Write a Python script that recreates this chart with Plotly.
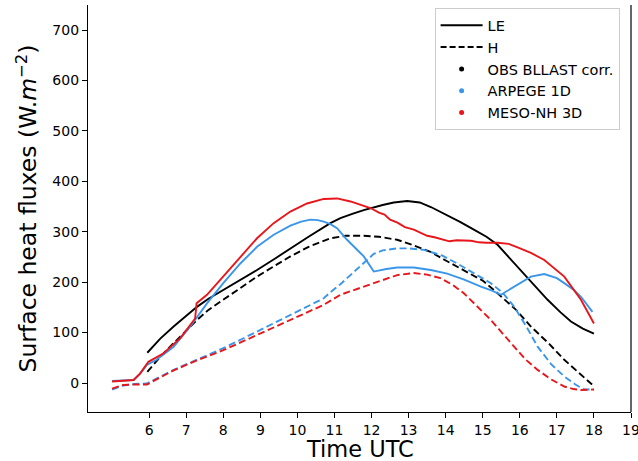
import plotly.graph_objects as go

# ---------------- data ----------------
# Observed latent heat flux LE (black solid)
obs_le_t = [5.95, 6.3, 6.66, 7.0, 7.29, 7.6, 8.0, 8.5, 8.91, 9.4, 9.81, 10.3, 10.89, 11.16, 11.5,
            11.79, 12.3, 12.6, 12.96, 13.3, 13.6, 14.05, 14.4, 14.76, 15.1, 15.4, 15.7, 16.03, 16.4,
            16.75, 17.1, 17.38, 17.7, 18.0]
obs_le = [60, 88, 112, 133, 151, 167, 184, 205, 224, 247, 267, 290, 317, 327, 336,
          343, 353, 358, 361, 358, 349, 333, 319, 304, 290, 274, 250, 224, 193,
          165, 140, 122, 108, 98]

# Observed sensible heat flux H (black dashed)
obs_h_t = [5.95, 6.3, 6.66, 7.0, 7.29, 7.6, 8.0, 8.5, 8.91, 9.4, 9.81, 10.3, 10.89, 11.3, 11.79,
           12.2, 12.69, 13.1, 13.59, 14.0, 14.49, 15.0, 15.4, 15.9, 16.3, 16.8, 17.2, 17.6, 17.95]
obs_h = [22, 52, 79, 104, 125, 145, 165, 190, 211, 233, 251, 270, 287, 292, 292,
         290, 284, 274, 260, 243, 224, 203, 178, 145, 112, 77, 46, 20, -3]

# ARPEGE 1D LE (blue solid)
arp_le_t = [5.0, 5.3, 5.58, 5.75, 5.94, 6.2, 6.66, 7.11, 7.56, 8.0, 8.46, 8.91, 9.36, 9.81, 10.1,
            10.35, 10.55, 10.71, 10.89, 11.07, 11.34, 11.79, 12.06, 12.4, 12.69, 13.14, 13.6, 14.04,
            14.5, 14.95, 15.25, 15.49, 15.85, 16.3, 16.66, 17.0, 17.2, 17.45, 17.65, 17.96]
arp_le = [4, 5, 6, 18, 36, 46, 72, 112, 158, 198, 237, 270, 294, 312, 320,
          324, 323, 320, 315, 307, 284, 251, 221, 226, 229, 229, 224, 217,
          205, 191, 183, 175, 191, 211, 216, 208, 198, 185, 171, 141]

# MESO-NH 3D LE (red solid)
mnh_le_t = [5.0, 5.3, 5.58, 5.76, 5.98, 6.39, 6.84, 7.24, 7.28, 7.56, 8.0, 8.46, 8.91, 9.36, 9.81,
            10.26, 10.71, 11.07, 11.43, 11.97, 12.2, 12.35, 12.5, 12.7, 12.9, 13.14, 13.3, 13.5, 13.7,
            13.95, 14.1, 14.3, 14.5, 14.68, 14.9, 15.1, 15.4, 15.7, 15.94, 16.3, 16.66, 17.2, 17.65, 18.0]
mnh_le = [3, 5, 6, 19, 42, 59, 89, 128, 158, 175, 211, 250, 287, 317, 340,
          356, 365, 366, 360, 347, 338, 334, 324, 318, 309, 304, 299, 292, 289,
          284, 281, 283, 282, 282, 279, 278, 278, 276, 269, 258, 244, 211, 165, 118]

# ARPEGE 1D H (blue dashed)
arp_h_t = [5.0, 5.3, 5.6, 5.94, 6.66, 7.29, 8.0, 8.91, 9.81, 10.71, 10.89, 11.16, 11.43, 11.79, 12.06,
           12.3, 12.69, 13.0, 13.41, 13.9, 14.31, 14.8, 15.22, 15.55, 15.85, 16.2, 16.48, 16.85,
           17.2, 17.5, 17.74, 18.0]
arp_h = [-13, -5, -2, -1, 26, 46, 69, 102, 135, 168, 180, 196, 214, 238, 256,
         263, 267, 267, 264, 253, 237, 216, 198, 178, 151, 109, 72, 37,
         13, -3, -13, -13]

# MESO-NH 3D H (red dashed)
mnh_h_t = [5.0, 5.3, 5.6, 5.94, 6.66, 7.29, 8.0, 8.91, 9.81, 10.71, 11.16, 11.79, 12.3, 12.69, 13.14,
           13.5, 13.86, 14.2, 14.49, 14.85, 15.22, 15.55, 15.85, 16.15, 16.48, 16.85, 17.2, 17.45,
           17.65, 18.0]
mnh_h = [-11, -4, -3, -3, 25, 45, 65, 95, 125, 155, 175, 191, 205, 214, 218,
         215, 208, 194, 178, 152, 125, 97, 72, 47, 26, 7, -7, -12,
         -14, -13]

x_ticks = list(range(6, 20))
y_ticks = list(range(0, 800, 100))
legend_names = ["LE", "H", "OBS BLLAST corr.", "ARPEGE 1D", "MESO-NH 3D"]
x_title = "Time UTC"
y_title = "Surface heat fluxes (W.<i>m</i><sup>−2</sup>)"

# ---------------- styles ----------------
BLACK = "#000000"
BLUE = "#3a96ea"
RED = "#e8161b"
FONT = "DejaVu Sans"
DASH = "7px,3.5px"
LW = 1.9

fig = go.Figure()

series = [
    (obs_le_t, obs_le, BLACK, "solid"),
    (obs_h_t, obs_h, BLACK, DASH),
    (arp_h_t, arp_h, BLUE, DASH),
    (mnh_h_t, mnh_h, RED, DASH),
    (arp_le_t, arp_le, BLUE, "solid"),
    (mnh_le_t, mnh_le, RED, "solid"),
]
for t, v, c, d in series:
    fig.add_trace(go.Scatter(x=t, y=v, mode="lines", showlegend=False, hoverinfo="skip",
                             line=dict(color=c, width=LW, dash=d)))

# legend-only entries
fig.add_trace(go.Scatter(x=[None], y=[None], mode="lines", name=legend_names[0],
                         line=dict(color=BLACK, width=LW)))
fig.add_trace(go.Scatter(x=[None], y=[None], mode="lines", name=legend_names[1],
                         line=dict(color=BLACK, width=LW, dash="6px,3px")))
for nm, c in zip(legend_names[2:], [BLACK, BLUE, RED]):
    fig.add_trace(go.Scatter(x=[None], y=[None], mode="markers", name=nm,
                             marker=dict(color=c, size=5)))

fig.update_layout(
    width=638, height=461,
    margin=dict(l=88, r=7, t=5, b=49),
    paper_bgcolor="white", plot_bgcolor="white",
    font=dict(family=FONT, color="#000000", size=14),
    legend=dict(x=0.979, xanchor="right", y=0.992, yanchor="top",
                bgcolor="white", bordercolor="#cccccc", borderwidth=1,
                font=dict(size=14.5, family=FONT), itemwidth=42, tracegroupgap=0),
    shapes=[dict(type="line", xref="paper", yref="paper", x0=1, x1=1, y0=0, y1=1,
                 line=dict(color="black", width=1.2))],
    annotations=[
        dict(text=x_title, xref="paper", yref="paper", x=0.5, y=-0.0915,
             xanchor="center", yanchor="middle", showarrow=False,
             font=dict(size=22.5, family=FONT, color="black")),
        dict(text=y_title, xref="paper", yref="paper", x=-0.1123, y=0.5,
             xanchor="center", yanchor="middle", showarrow=False, textangle=-90,
             font=dict(size=23.5, family=FONT, color="black")),
    ],
)
fig.update_xaxes(range=[4.35, 19], tickvals=x_ticks, ticks="outside", ticklen=5,
                 tickcolor="black", showline=True, linecolor="black", linewidth=1.2,
                 showgrid=False, zeroline=False, tickfont=dict(size=14),
                 ticklabeloverflow="allow", automargin=False)
fig.update_yaxes(range=[-57.5, 749.6], tickvals=y_ticks, ticks="outside", ticklen=5,
                 tickcolor="black", showline=True, linecolor="black", linewidth=1.2,
                 showgrid=False, zeroline=False, tickfont=dict(size=14), automargin=False)

fig.write_html("out.html")
